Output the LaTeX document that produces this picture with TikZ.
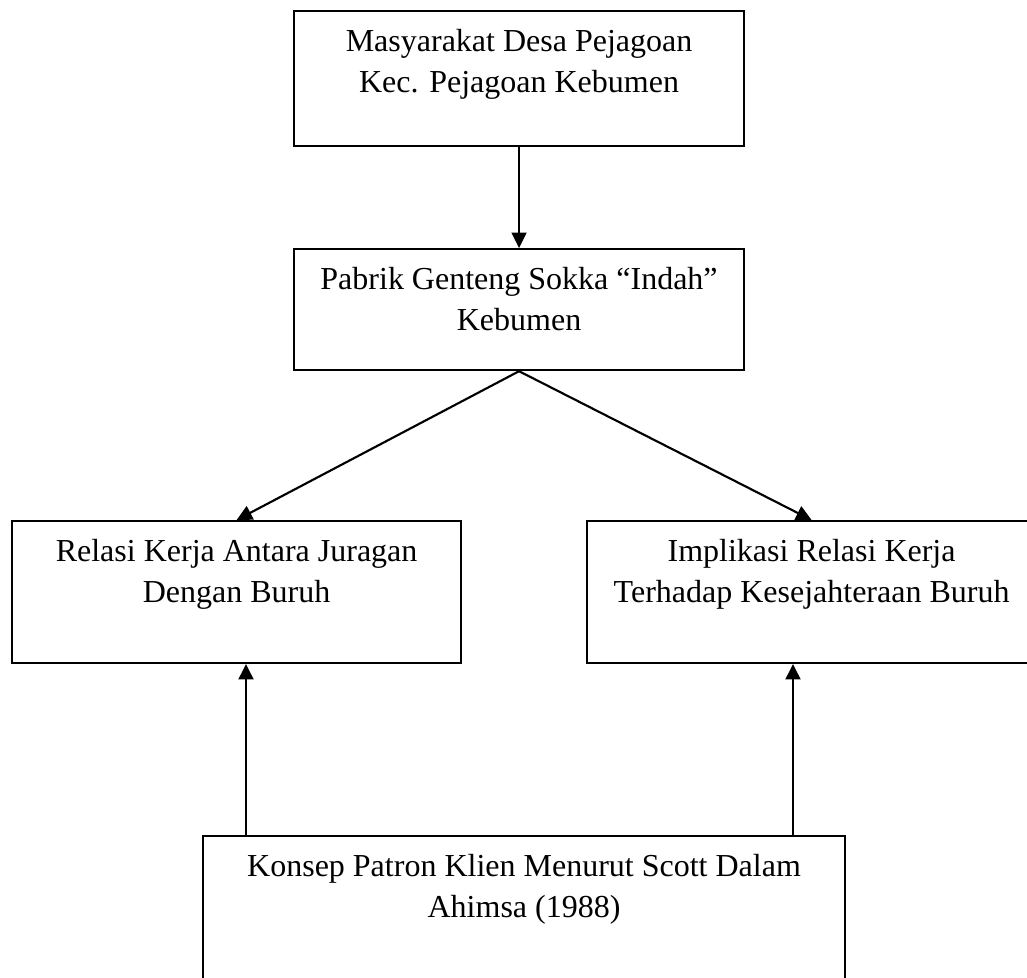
\documentclass[tikz,border=0pt]{standalone}
\usepackage{fontspec}
\setmainfont{Liberation Serif}
\usetikzlibrary{arrows.meta}

\newcommand{\isikotak}[3]{\parbox[c][#2][t]{#1}{\centering\rule{0pt}{15.1pt}#3\par}}

\begin{document}
\begin{tikzpicture}[
  x=0.375pt, y=-0.375pt,
  >={Triangle[length=5.8pt, width=5.6pt]},
  kotak/.style={draw, line width=0.8pt, anchor=north west, inner sep=0pt,
    font=\fontsize{12pt}{15.5pt}\selectfont},
  garis/.style={line width=0.8pt}]
\useasboundingbox (0,0) rectangle (1027,977);
\node[kotak] (mas) at (293,10)
  {\isikotak{168.75pt}{50.6pt}{Masyarakat Desa Pejagoan\\Kec. Pejagoan Kebumen}};
\node[kotak] (pab) at (293,248)
  {\isikotak{168.75pt}{45.4pt}{Pabrik Genteng Sokka ``Indah''\\Kebumen}};
\node[kotak] (rel) at (11,520)
  {\isikotak{168.4pt}{53.2pt}{Relasi Kerja Antara Juragan\\Dengan Buruh}};
\node[kotak] (imp) at (586,520)
  {\isikotak{168.4pt}{53.2pt}{Implikasi Relasi Kerja\\Terhadap Kesejahteraan Buruh}};
\node[kotak] (kon) at (202,835)
  {\isikotak{240.75pt}{75pt}{Konsep Patron Klien Menurut Scott Dalam\\Ahimsa (1988)}};
\draw[garis, ->] (mas) -- (pab);
\draw[garis, ->] (pab.south) -- (rel.north);
\draw[garis, ->] (pab.south) -- (imp.north);
\draw[garis, ->] (kon.north -| 246,0) -- (rel.south -| 246,0);
\draw[garis, ->] (kon.north -| 793,0) -- (imp.south -| 793,0);
\end{tikzpicture}
\end{document}
